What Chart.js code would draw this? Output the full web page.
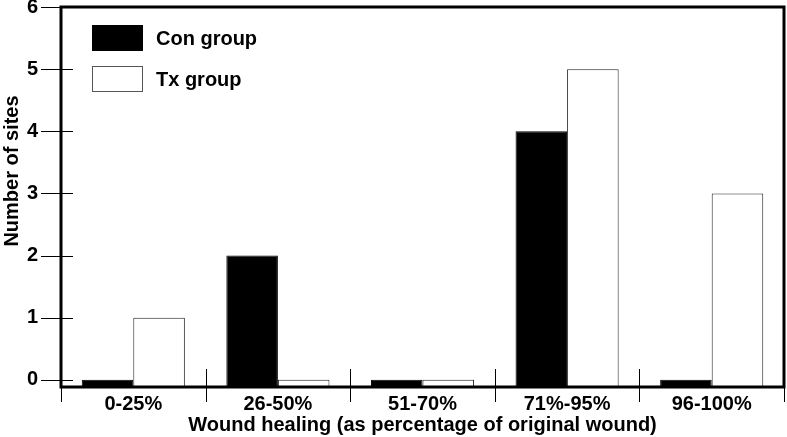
<!DOCTYPE html>
<html><head><meta charset="utf-8">
<script src="https://cdn.jsdelivr.net/npm/chart.js@4.4.0/dist/chart.umd.min.js"></script>
<style>html,body{margin:0;padding:0;background:#fff}#wrap{width:787px;height:437px}</style>
</head><body><div id="wrap"><canvas id="c" width="787" height="437"></canvas></div>
<script>
const categories = ['0-25%', '26-50%', '51-70%', '71%-95%', '96-100%'];
const conValues = [0, 2, 0, 4, 0];
const txValues = [1, 0, 0, 5, 3];
const yTicks = [0, 1, 2, 3, 4, 5, 6];
const seriesNames = ['Con group', 'Tx group'];
const xTitle = 'Wound healing (as percentage of original wound)';
const yTitle = 'Number of sites';
const Y_MIN = -0.115, Y_MAX = 6;
const FAMILY = '"Liberation Sans", Arial, Helvetica, sans-serif';
const FONT = 'bold 20px ' + FAMILY;

const decor = {
  id: 'decor',
  afterDatasetsDraw(chart) {
    const ctx = chart.ctx, a = chart.chartArea;
    const xs = chart.scales.x, ys = chart.scales.y;
    ctx.save();
    // frame
    ctx.strokeStyle = '#000';
    ctx.lineWidth = 3;
    ctx.strokeRect(a.left, a.top, a.right - a.left, a.bottom - a.top);
    // y tick marks crossing the axis
    ctx.lineWidth = 1;
    ctx.beginPath();
    yTicks.forEach(v => {
      const py = Math.round(ys.getPixelForValue(v)) + 0.5;
      ctx.moveTo(a.left - 20, py);
      ctx.lineTo(a.left + 12, py);
    });
    // x tick marks at category boundaries
    const half = (xs.getPixelForValue(1) - xs.getPixelForValue(0)) / 2;
    for (let i = 0; i <= categories.length; i++) {
      const px = Math.round(xs.getPixelForValue(Math.min(i, categories.length - 1)) + (i < categories.length ? -half : half)) + 0.5;
      ctx.moveTo(px, a.bottom - 18);
      ctx.lineTo(px, a.bottom + 15);
    }
    ctx.stroke();
    // legend
    const ds = chart.data.datasets;
    ctx.font = FONT;
    ctx.textBaseline = 'middle';
    ctx.textAlign = 'left';
    ds.forEach((d, i) => {
      const bx = a.left + 31, by = a.top + 18 + i * 41, bw = 51, bh = 26;
      ctx.fillStyle = d.backgroundColor;
      ctx.fillRect(bx, by, bw, bh);
      ctx.strokeStyle = i === 0 ? '#000' : '#555';
      ctx.lineWidth = 1;
      ctx.strokeRect(bx + 0.5, by + 0.5, bw - 1, bh - 1);
      ctx.fillStyle = '#000';
      ctx.fillText(d.label, bx + 64, by + bh / 2 + 1);
    });
    // y title
    ctx.save();
    ctx.translate(12, 171);
    ctx.rotate(-Math.PI / 2);
    ctx.textAlign = 'center';
    ctx.textBaseline = 'middle';
    ctx.fillStyle = '#000';
    ctx.fillText(yTitle, 0, 0);
    ctx.restore();
    ctx.restore();
  }
};

new Chart(document.getElementById('c'), {
  type: 'bar',
  data: {
    labels: categories,
    datasets: [
      { label: seriesNames[0], data: conValues, backgroundColor: '#000', borderColor: '#000', borderWidth: 1, base: Y_MIN, barPercentage: 1, categoryPercentage: 0.713 },
      { label: seriesNames[1], data: txValues, backgroundColor: '#fff', borderColor: '#222', borderWidth: 1, base: Y_MIN, barPercentage: 1, categoryPercentage: 0.713 }
    ]
  },
  options: {
    responsive: false,
    animation: false,
    devicePixelRatio: 1,
    layout: { padding: { top: 7, right: 3, left: 0, bottom: 0 } },
    plugins: { legend: { display: false }, tooltip: { enabled: false } },
    scales: {
      x: {
        type: 'category',
        offset: true,
        grid: { display: false, drawTicks: false },
        border: { display: false },
        ticks: { color: '#000', font: { family: FAMILY, size: 20, weight: 'bold' }, padding: 5, maxRotation: 0, autoSkip: false },
        title: { display: true, text: xTitle, color: '#000', font: { family: FAMILY, size: 20, weight: 'bold' }, padding: { top: 0, bottom: 0 } },
        afterFit: s => { s.height = 50; s.paddingLeft = 0; s.paddingRight = 0; }
      },
      y: {
        type: 'linear',
        min: Y_MIN,
        max: Y_MAX,
        afterBuildTicks: s => { s.ticks = yTicks.map(v => ({ value: v })); },
        grid: { display: false, drawTicks: false },
        border: { display: false },
        ticks: { color: '#000', font: { family: FAMILY, size: 20, weight: 'bold', lineHeight: 0.6 }, padding: 23 },
        afterFit: s => { s.width = 61; s.paddingTop = 0; s.paddingBottom = 0; }
      }
    }
  },
  plugins: [decor]
});
</script>
</body></html>
